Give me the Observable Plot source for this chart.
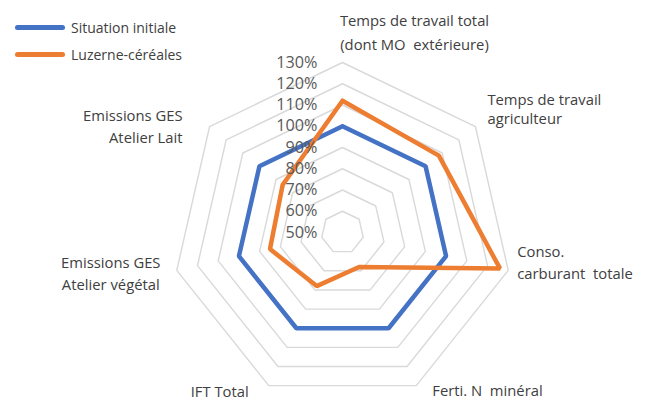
<!DOCTYPE html>
<html>
<head>
<meta charset="utf-8">
<script src="https://cdn.jsdelivr.net/npm/d3@7"></script>
<script src="https://cdn.jsdelivr.net/npm/@observablehq/plot@0.6"></script>
<style>
  html, body { margin: 0; padding: 0; background: #fff; }
  #wrap { position: relative; width: 645px; height: 400px; font-family: "Open Sans", sans-serif; }
  .legend { position: absolute; left: 15px; top: 14px; font-size: 14px; color: #404040; }
  .legend .item { display: flex; align-items: center; height: 27px; }
  .legend .sw { width: 50px; height: 5px; border-radius: 3px; margin-right: 6px; }
</style>
</head>
<body>
<div id="wrap"></div>
<script>
const categories = [
  "Temps de travail total\n(dont MO  extérieure)",
  "Temps de travail\nagriculteur",
  "Conso.\ncarburant  totale",
  "Ferti. N  minéral",
  "IFT Total",
  "Emissions GES\nAtelier végétal",
  "Emissions GES\nAtelier Lait"
];
const seriesNames = ["Situation initiale", "Luzerne-céréales"];
const situationInitiale = [100, 100, 100, 100, 100, 100, 100];
const luzerneCereales = [112, 108, 126, 68, 78, 85, 86];
const tickValues = [50, 60, 70, 80, 90, 100, 110, 120, 130];
const colors = ["#4472C4", "#ED7D31"];

const minV = 50, maxV = 130;
const n = categories.length;
const angle = i => (2 * Math.PI * i) / n;
const pt = (i, v) => ({ x: (v - minV) * Math.sin(angle(i)), y: (v - minV) * Math.cos(angle(i)) });

// geometry of the plot frame (styles)
const W = 645, H = 400, cx = 342, cy = 232, k = 170 / (maxV - minV);

const rings = tickValues.filter(v => v > minV).flatMap(v =>
  d3.range(n + 1).map(i => ({ ring: v, ...pt(i % n, v) }))
);
const series = [situationInitiale, luzerneCereales].flatMap((vals, s) =>
  d3.range(n + 1).map(i => ({ name: seriesNames[s], ...pt(i % n, vals[i % n]) }))
);
const ticks = tickValues.map(v => ({ label: v + "%", x: 0, y: v - minV }));

const labelStyle = [
  { anchor: "middle", dx: 72, dy: -32, lh: 24 },
  { anchor: "start", dx: 12, dy: -18, lh: 19 },
  { anchor: "start", dx: 9, dy: -9, lh: 22 },
  { anchor: "start", dx: 16, dy: 3, lh: 22 },
  { anchor: "end", dx: -20, dy: 4, lh: 22 },
  { anchor: "middle", dx: -66, dy: 2, lh: 22 },
  { anchor: "end", dx: -27, dy: -2, lh: 22 }
];
const fs = 14.8;
const labelMarks = categories.map((c, i) => {
  const p = pt(i, maxV);
  const s = labelStyle[i];
  return Plot.text([{ text: c, ...p }], {
    x: "x", y: "y", text: "text",
    textAnchor: s.anchor, dx: s.dx, dy: s.dy,
    lineHeight: s.lh / fs, fontSize: fs, fill: "#404040",
    fontFamily: "Open Sans"
  });
});

const chart = Plot.plot({
  width: W, height: H,
  margin: 0,
  x: { domain: [-cx / k, (W - cx) / k], axis: null },
  y: { domain: [-(H - cy) / k, cy / k], axis: null },
  style: { fontFamily: "Open Sans", background: "#fff", overflow: "visible" },
  marks: [
    Plot.line(rings, { x: "x", y: "y", z: "ring", stroke: "#d9d9d9", strokeWidth: 1.4 }),
    Plot.line(series, { x: "x", y: "y", z: "name", stroke: d => d.name, strokeWidth: 4.5, strokeLinejoin: "miter" }),
    Plot.text(ticks, { x: "x", y: "y", text: "label", textAnchor: "end", dx: -25, fontSize: 16.2, fill: "#595959", fontFamily: "Open Sans" }),
    ...labelMarks
  ],
  color: { domain: seriesNames, range: colors }
});

const wrap = document.getElementById("wrap");
wrap.appendChild(chart);
const legend = document.createElement("div");
legend.className = "legend";
seriesNames.forEach((s, i) => {
  const it = document.createElement("div");
  it.className = "item";
  it.innerHTML = `<span class="sw" style="background:${colors[i]}"></span><span>${s}</span>`;
  legend.appendChild(it);
});
wrap.appendChild(legend);
</script>
</body>
</html>
